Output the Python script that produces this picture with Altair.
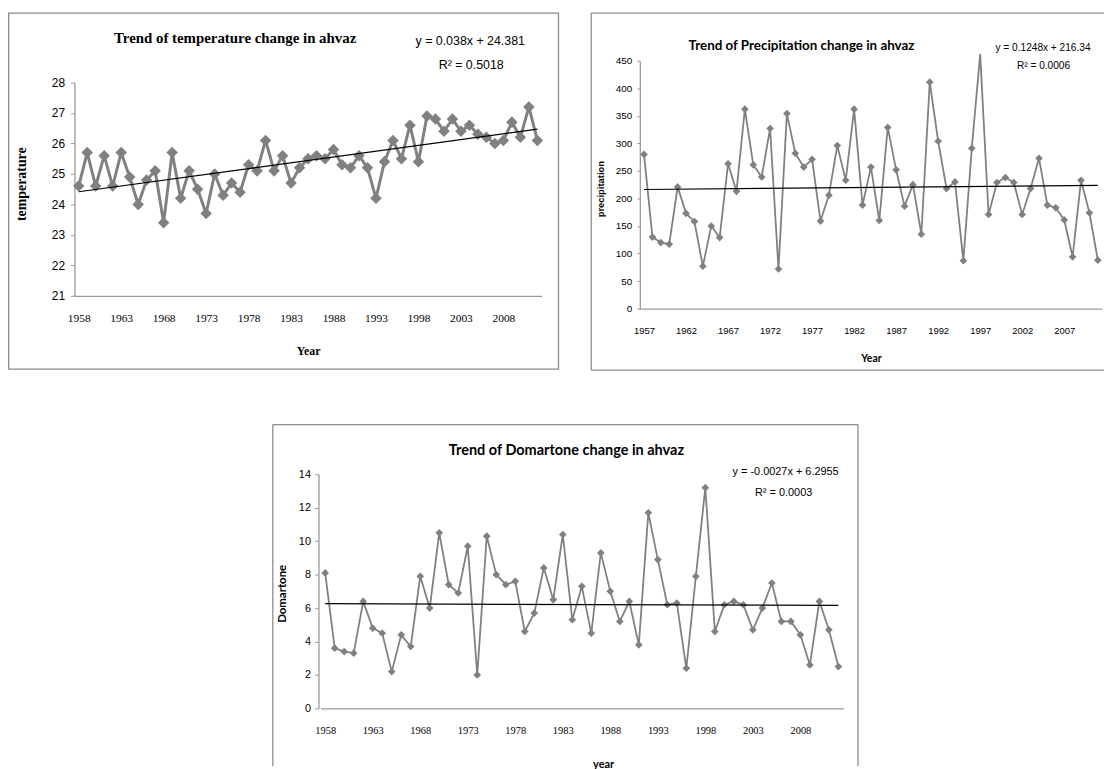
import altair as alt
import pandas as pd

# ---------------- data ----------------
temp_years = list(range(1958, 2013))
temperature = [24.6, 25.7, 24.6, 25.6, 24.6, 25.7, 24.9, 24.0, 24.8, 25.1,
               23.4, 25.7, 24.2, 25.1, 24.5, 23.7, 25.0, 24.3, 24.7, 24.4,
               25.3, 25.1, 26.1, 25.1, 25.6, 24.7, 25.2, 25.5, 25.6, 25.5,
               25.8, 25.3, 25.2, 25.6, 25.2, 24.2, 25.4, 26.1, 25.5, 26.6,
               25.4, 26.9, 26.8, 26.4, 26.8, 26.4, 26.6, 26.3, 26.2, 26.0,
               26.1, 26.7, 26.2, 27.2, 26.1]

precip_years = list(range(1957, 2012))
precipitation = [280, 130, 120, 117, 221, 173, 158, 77, 150, 129,
                 263, 213, 362, 261, 239, 327, 72, 354, 282, 257,
                 271, 159, 206, 296, 233, 362, 188, 257, 160, 329,
                 252, 186, 225, 135, 411, 304, 218, 230, 87, 291,
                 467, 171, 229, 238, 229, 171, 218, 273, 188, 183,
                 161, 94, 233, 174, 88]

dom_years = list(range(1958, 2013))
domartone = [8.1, 3.6, 3.4, 3.3, 6.4, 4.8, 4.5, 2.2, 4.4, 3.7,
             7.9, 6.0, 10.5, 7.4, 6.9, 9.7, 2.0, 10.3, 8.0, 7.4,
             7.6, 4.6, 5.7, 8.4, 6.5, 10.4, 5.3, 7.3, 4.5, 9.3,
             7.0, 5.2, 6.4, 3.8, 11.7, 8.9, 6.2, 6.3, 2.4, 7.9,
             13.2, 4.6, 6.2, 6.4, 6.2, 4.7, 6.0, 7.5, 5.2, 5.2,
             4.4, 2.6, 6.4, 4.7, 2.5]

temp_xticks = [1958, 1963, 1968, 1973, 1978, 1983, 1988, 1993, 1998, 2003, 2008]
precip_xticks = [1957, 1962, 1967, 1972, 1977, 1982, 1987, 1992, 1997, 2002, 2007]
dom_xticks = [1958, 1963, 1968, 1973, 1978, 1983, 1988, 1993, 1998, 2003, 2008]
temp_yticks = [21, 22, 23, 24, 25, 26, 27, 28]
precip_yticks = [0, 50, 100, 150, 200, 250, 300, 350, 400, 450]
dom_yticks = [0, 2, 4, 6, 8, 10, 12, 14]

titles = ["Trend of temperature change in ahvaz",
          "Trend of Precipitation change in ahvaz",
          "Trend of Domartone change in ahvaz"]
equations = ["y = 0.038x + 24.381", "y = 0.1248x + 216.34", "y = -0.0027x + 6.2955"]
r2_texts = ["R\u00b2 = 0.5018", "R\u00b2 = 0.0006", "R\u00b2 = 0.0003"]

# ---------------- style ----------------
W, H = 1105, 761
GRAY = "#808080"
AXISC = "#9a9a9a"
FRAMEC = "#8c8c8c"
SERIF = "Liberation Serif"
SANS = "Liberation Sans"
CAL = "Lato"

one = pd.DataFrame({"k": [0]})


def txt(s, x, y, size, font, weight="normal"):
    return alt.Chart(one).mark_text(text=s, font=font, fontSize=size, fontWeight=weight,
                                    color="black", align="center", baseline="middle").encode(
        x=alt.value(x), y=alt.value(y))


def rect(x1, y1, x2, y2):
    return alt.Chart(one).mark_rect(fillOpacity=0, stroke=FRAMEC, strokeWidth=1.3).encode(
        x=alt.value(x1), x2=alt.value(x2), y=alt.value(y1), y2=alt.value(y2))


def rule(x1, y1, x2, y2):
    return alt.Chart(one).mark_rule(color=FRAMEC, strokeWidth=1.3).encode(
        x=alt.value(x1), x2=alt.value(x2), y=alt.value(y1), y2=alt.value(y2))


def panel(df, xenc, yenc, line_w, pt_size, clip_top=None, pts_max=None):
    base = alt.Chart(df).encode(x=xenc, y=yenc)
    line_src = base
    if clip_top is not None:
        line_src = base.transform_calculate(value="min(datum.value, %s)" % clip_top)
    line = line_src.mark_line(color=GRAY, strokeWidth=line_w)
    pts_src = base
    if pts_max is not None:
        pts_src = base.transform_filter("datum.value <= %s" % pts_max)
    pts = pts_src.mark_point(shape="diamond", filled=True, size=pt_size, color=GRAY, opacity=1)
    trend = base.transform_regression("year", "value").mark_line(color="black", strokeWidth=1.2)
    return [line, pts, trend]


# ---------- panel 1 : temperature ----------
df1 = pd.DataFrame({"year": temp_years, "value": temperature})
x1 = alt.X("year:Q", scale=alt.Scale(domain=[1957.5, 2012.5], range=[67, 538], nice=False, zero=False),
           axis=alt.Axis(orient="bottom", offset=287 - H, values=temp_xticks, format="d", grid=False,
                         tickSize=0, domainColor=AXISC, domainWidth=1.3,
                         labelFont=SERIF, labelFontSize=11.5, labelColor="black", labelPadding=23,
                         labelBaseline="middle", labelFlush=False, labelOverlap=False,
                         title="Year", titleFont=SERIF, titleFontSize=12, titleFontWeight="bold",
                         titleColor="black", titleX=302.5, titleY=55, titleBaseline="middle",
                         titleAlign="center", titleAngle=0))
y1 = alt.Y("value:Q", scale=alt.Scale(domain=[21, 28], range=[287, 72], nice=False, zero=False),
           axis=alt.Axis(orient="left", offset=-67, values=temp_yticks, grid=False,
                         tickSize=4, tickColor=AXISC, domainColor=AXISC, domainWidth=1.3,
                         labelFont=SANS, labelFontSize=12, labelColor="black", labelPadding=6,
                         labelFlush=False,
                         title="temperature", titleFont=SERIF, titleFontSize=14, titleFontWeight="bold",
                         titleColor="black", titleX=-53, titleY=174, titleAngle=270,
                         titleBaseline="middle", titleAlign="center"))
p1 = alt.layer(
    rect(0.7, 2, 555, 361),
    *panel(df1, x1, y1, 3, 135),
    txt(titles[0], 229, 27, 15, SERIF, "bold"),
    txt(equations[0], 466, 30, 12.5, SANS),
    txt(r2_texts[0], 467, 54, 12.5, SANS),
)

# ---------- panel 2 : precipitation ----------
df2 = pd.DataFrame({"year": precip_years, "value": precipitation})
x2 = alt.X("year:Q", scale=alt.Scale(domain=[1956.5, 2011.5], range=[637, 1103], nice=False, zero=False),
           axis=alt.Axis(orient="bottom", offset=300 - H, values=precip_xticks, format="d", grid=False,
                         tickSize=0, domainColor=AXISC, domainWidth=1.3,
                         labelFont=SANS, labelFontSize=9.5, labelColor="black", labelPadding=22,
                         labelBaseline="middle", labelFlush=False, labelOverlap=False,
                         title="Year", titleFont=CAL, titleFontSize=10.5, titleFontWeight="bold",
                         titleColor="black", titleX=870, titleY=50, titleBaseline="middle",
                         titleAlign="center", titleAngle=0))
y2 = alt.Y("value:Q", scale=alt.Scale(domain=[0, 450], range=[300, 50], nice=False, zero=False),
           axis=alt.Axis(orient="left", offset=-637, values=precip_yticks, grid=False,
                         tickSize=3, tickColor=AXISC, domainColor=AXISC, domainWidth=1.3,
                         labelFont=SANS, labelFontSize=10, labelColor="black", labelPadding=5,
                         labelFlush=False,
                         title="precipitation", titleFont=SANS, titleFontSize=9.5, titleFontWeight="bold",
                         titleColor="black", titleX=-40, titleY=179, titleAngle=270,
                         titleBaseline="middle", titleAlign="center"))
p2 = alt.layer(
    rule(588, 2, 1105, 2), rule(588, 362, 1105, 362), rule(588, 2, 588, 362),
    *panel(df2, x2, y2, 1.8, 60, clip_top=462, pts_max=450),
    txt(titles[1], 800, 35, 13.5, CAL, "bold"),
    txt(equations[1], 1043.5, 37, 10.2, SANS),
    txt(r2_texts[1], 1044, 55, 10.2, SANS),
)

# ---------- panel 3 : Domartone ----------
df3 = pd.DataFrame({"year": dom_years, "value": domartone})
x3 = alt.X("year:Q", scale=alt.Scale(domain=[1957.5, 2012.5], range=[315, 842], nice=False, zero=False),
           axis=alt.Axis(orient="bottom", offset=703 - H, values=dom_xticks, format="d", grid=False,
                         tickSize=0, domainColor=AXISC, domainWidth=1.3,
                         labelFont=SERIF, labelFontSize=10.5, labelColor="black", labelPadding=22,
                         labelBaseline="middle", labelFlush=False, labelOverlap=False,
                         title="year", titleFont=CAL, titleFontSize=11, titleFontWeight="bold",
                         titleColor="black", titleX=600, titleY=57, titleBaseline="middle",
                         titleAlign="center", titleAngle=0))
y3 = alt.Y("value:Q", scale=alt.Scale(domain=[0, 14], range=[703, 467], nice=False, zero=False),
           axis=alt.Axis(orient="left", offset=-313, values=dom_yticks, grid=False,
                         tickSize=4, tickColor=AXISC, domainColor=AXISC, domainWidth=1.3,
                         labelFont=SANS, labelFontSize=11, labelColor="black", labelPadding=4,
                         labelFlush=False,
                         title="Domartone", titleFont=CAL, titleFontSize=11.5, titleFontWeight="bold",
                         titleColor="black", titleX=-36, titleY=587, titleAngle=270,
                         titleBaseline="middle", titleAlign="center"))
p3 = alt.layer(
    rule(267, 417, 857, 417), rule(267, 417, 267, 761), rule(857, 417, 857, 761),
    *panel(df3, x3, y3, 1.8, 60),
    txt(titles[2], 563, 444, 14.6, CAL, "bold"),
    txt(equations[2], 784, 465, 11, SANS),
    txt(r2_texts[2], 782, 486, 11, SANS),
)

chart = alt.layer(p1, p2, p3).resolve_scale(
    x="independent", y="independent"
).properties(
    width=W, height=H, padding=0, background="white"
).configure_view(strokeWidth=0)

chart.save("out.html", embed_options={"renderer": "svg", "actions": False})
